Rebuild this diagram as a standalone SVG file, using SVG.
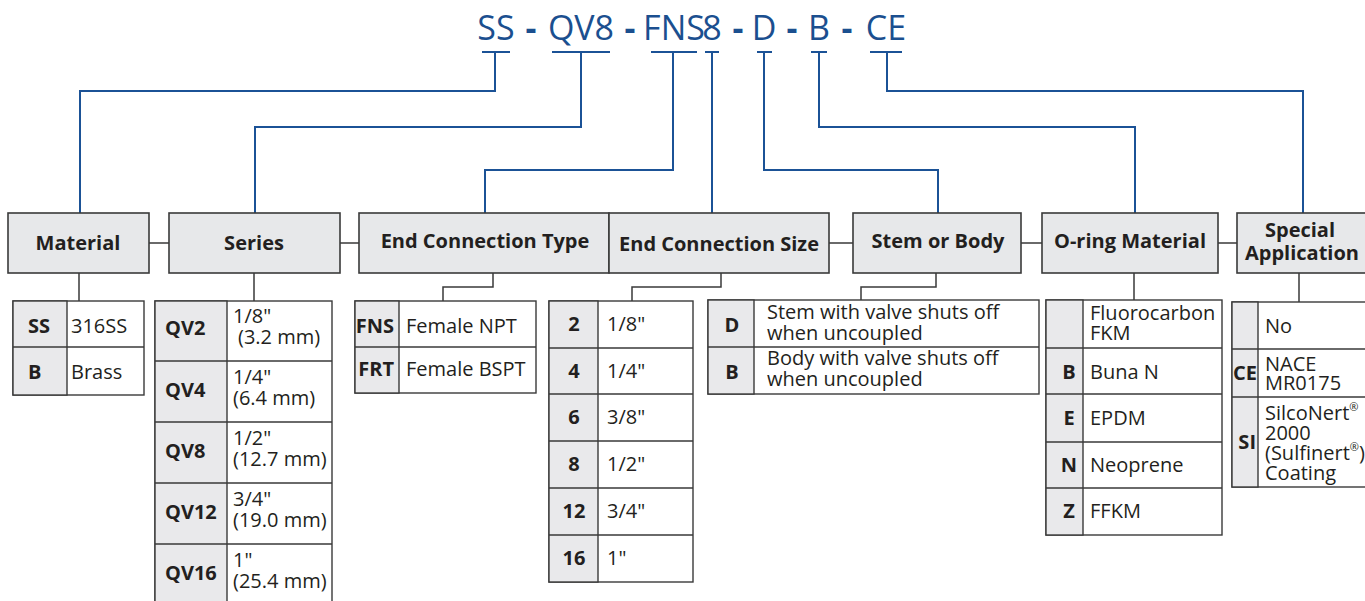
<svg xmlns="http://www.w3.org/2000/svg" width="1365" height="601" viewBox="0 0 1365 601">
<style>
.hdr{fill:#e7e8ea;stroke:#3a3a3a;stroke-width:1.6}
.tbl{fill:#fff;stroke:#3a3a3a;stroke-width:1.4}
.cc{fill:#e9e9eb;stroke:#3a3a3a;stroke-width:1.4}
.div{stroke:#3a3a3a;stroke-width:1.4;fill:none}
.gl{stroke:#3a3a3a;stroke-width:1.5;fill:none}
.bl{stroke:#1b5296;stroke-width:2;fill:none}
.ht{font-family:"Open Sans","Noto Sans",sans-serif;font-weight:700;font-size:20px;fill:#231f20;text-anchor:middle}
.ct{font-family:"Open Sans","Noto Sans",sans-serif;font-weight:700;font-size:20px;fill:#231f20}
.dt{font-family:"Open Sans","Noto Sans",sans-serif;font-size:20px;fill:#231f20}
.code{font-family:"Open Sans","Noto Sans",sans-serif;font-size:34px;fill:#1b4f8f;text-anchor:middle}
.dash{font-weight:700}
.sup{font-size:11px}
</style>

<g id="code">
<text class="code" y="40"><tspan x="496">SS</tspan><tspan class="dash" x="531">-</tspan><tspan x="581">QV8</tspan><tspan class="dash" x="630">-</tspan><tspan x="674">FNS</tspan><tspan x="712">8</tspan><tspan class="dash" x="738">-</tspan><tspan x="764">D</tspan><tspan class="dash" x="792">-</tspan><tspan x="819">B</tspan><tspan class="dash" x="847">-</tspan><tspan x="886">CE</tspan></text>
</g>

<g id="connectors">
<path class="bl" d="M482 52H510M552 52H610M651 52H697M705 52H719M757 52H772M811 52H827M870 52H902"/>
<path class="bl" d="M495 52V91H80V213"/>
<path class="bl" d="M581 52V127H255V213"/>
<path class="bl" d="M673 52V170H485V213"/>
<path class="bl" d="M712 52V213"/>
<path class="bl" d="M764 52V170H938V213"/>
<path class="bl" d="M819 52V127H1135V213"/>
<path class="bl" d="M887 52V91H1303V213"/>
<path class="gl" d="M149 243H169M340 243H359M829 243H853M1021 243H1042M1218 243H1237"/>
<path class="gl" d="M79 273V301M254 273V301M493 273V287H443V301M721 273V287H632V301M936 273V287H861V300M1134 273V300M1299 273V302"/>
</g>

<g id="hdr-material"><rect class="hdr" x="8" y="213" width="141" height="60"/><text class="ht" x="78" y="250">Material</text></g>
<g id="hdr-series"><rect class="hdr" x="169" y="213" width="171" height="60"/><text class="ht" x="254" y="250">Series</text></g>
<g id="hdr-ect"><rect class="hdr" x="359" y="213" width="250" height="60"/><text class="ht" x="485" y="248">End Connection Type</text></g>
<g id="hdr-ecs"><rect class="hdr" x="609" y="213" width="220" height="60"/><text class="ht" x="719" y="251">End Connection Size</text></g>
<g id="hdr-stem"><rect class="hdr" x="853" y="213" width="168" height="60"/><text class="ht" x="938" y="248">Stem or Body</text></g>
<g id="hdr-oring"><rect class="hdr" x="1042" y="213" width="176" height="60"/><text class="ht" x="1130" y="248">O-ring Material</text></g>
<g id="hdr-special"><rect class="hdr" x="1237" y="213" width="140" height="60"/><text class="ht" x="1300" y="237">Special</text><text class="ht" x="1302" y="260">Application</text></g>

<g id="tbl-material">
<rect class="tbl" x="13" y="301" width="131" height="94"/>
<rect class="cc" x="13" y="301" width="54" height="94"/>
<path class="div" d="M13 347H144"/>
<text class="ct" x="28" y="333">SS</text><text class="dt" x="71" y="333">316SS</text>
<text class="ct" x="28" y="379">B</text><text class="dt" x="71" y="379">Brass</text>
</g>

<g id="tbl-series">
<rect class="tbl" x="155" y="301" width="177" height="306"/>
<rect class="cc" x="155" y="301" width="72" height="306"/>
<path class="div" d="M155 361H332M155 422H332M155 483H332M155 544H332"/>
<text class="ct" x="165" y="335">QV2</text><text class="dt" x="233" y="323">1/8"</text><text class="dt" x="238" y="344">(3.2 mm)</text>
<text class="ct" x="165" y="397">QV4</text><text class="dt" x="233" y="384">1/4"</text><text class="dt" x="233" y="405">(6.4 mm)</text>
<text class="ct" x="165" y="458">QV8</text><text class="dt" x="233" y="445">1/2"</text><text class="dt" x="233" y="466">(12.7 mm)</text>
<text class="ct" x="165" y="519">QV12</text><text class="dt" x="233" y="506">3/4"</text><text class="dt" x="233" y="527">(19.0 mm)</text>
<text class="ct" x="165" y="580">QV16</text><text class="dt" x="233" y="567">1"</text><text class="dt" x="233" y="588">(25.4 mm)</text>
</g>

<g id="tbl-ect">
<rect class="tbl" x="355" y="301" width="181" height="92"/>
<rect class="cc" x="355" y="301" width="44" height="92"/>
<path class="div" d="M355 347H536"/>
<text class="ct" x="394" y="333" text-anchor="end" font-size="18.5">FNS</text><text class="dt" x="406" y="333">Female NPT</text>
<text class="ct" x="394" y="376" text-anchor="end" font-size="18.5">FRT</text><text class="dt" x="406" y="376">Female BSPT</text>
</g>

<g id="tbl-ecs">
<rect class="tbl" x="549" y="301" width="144" height="281"/>
<rect class="cc" x="549" y="301" width="49" height="281"/>
<path class="div" d="M549 348H693M549 394H693M549 441H693M549 488H693M549 535H693"/>
<g class="ct" text-anchor="middle">
<text x="574" y="331">2</text><text x="574" y="378">4</text><text x="574" y="424">6</text><text x="574" y="471">8</text><text x="574" y="518">12</text><text x="574" y="565">16</text>
</g>
<g class="dt">
<text x="607" y="331">1/8"</text><text x="607" y="378">1/4"</text><text x="607" y="424">3/8"</text><text x="607" y="471">1/2"</text><text x="607" y="518">3/4"</text><text x="607" y="565">1"</text>
</g>
</g>

<g id="tbl-stem">
<rect class="tbl" x="708" y="300" width="331" height="94"/>
<rect class="cc" x="708" y="300" width="46" height="94"/>
<path class="div" d="M708 347H1039"/>
<text class="ct" x="732" y="332" text-anchor="middle">D</text>
<text class="dt" x="767" y="319">Stem with valve shuts off</text><text class="dt" x="767" y="340">when uncoupled</text>
<text class="ct" x="732" y="379" text-anchor="middle">B</text>
<text class="dt" x="767" y="365">Body with valve shuts off</text><text class="dt" x="767" y="386">when uncoupled</text>
</g>

<g id="tbl-oring">
<rect class="tbl" x="1046" y="300" width="176" height="235"/>
<rect class="cc" x="1046" y="300" width="37" height="235"/>
<path class="div" d="M1046 348H1222M1046 394H1222M1046 442H1222M1046 488H1222"/>
<text class="dt" x="1090" y="320">Fluorocarbon</text><text class="dt" x="1090" y="340">FKM</text>
<text class="ct" x="1069" y="379" text-anchor="middle">B</text><text class="dt" x="1090" y="379">Buna N</text>
<text class="ct" x="1069" y="425" text-anchor="middle">E</text><text class="dt" x="1090" y="425">EPDM</text>
<text class="ct" x="1069" y="472" text-anchor="middle">N</text><text class="dt" x="1090" y="472">Neoprene</text>
<text class="ct" x="1069" y="518" text-anchor="middle">Z</text><text class="dt" x="1090" y="518">FFKM</text>
</g>

<g id="tbl-special">
<rect class="tbl" x="1232" y="302" width="145" height="185"/>
<rect class="cc" x="1232" y="302" width="26" height="185"/>
<path class="div" d="M1232 349H1377M1232 397H1377"/>
<text class="dt" x="1265" y="333">No</text>
<text class="ct" x="1257" y="380" text-anchor="end">CE</text>
<text class="dt" x="1265" y="371">NACE</text><text class="dt" x="1265" y="390">MR0175</text>
<text class="ct" x="1256" y="449" text-anchor="end">SI</text>
<text class="dt" x="1265" y="420">SilcoNert<tspan class="sup" dy="-9">®</tspan></text>
<text class="dt" x="1265" y="440">2000</text>
<text class="dt" x="1265" y="460">(Sulfinert<tspan class="sup" dy="-9">®</tspan><tspan dy="9">)</tspan></text>
<text class="dt" x="1265" y="480">Coating</text>
</g>
</svg>
